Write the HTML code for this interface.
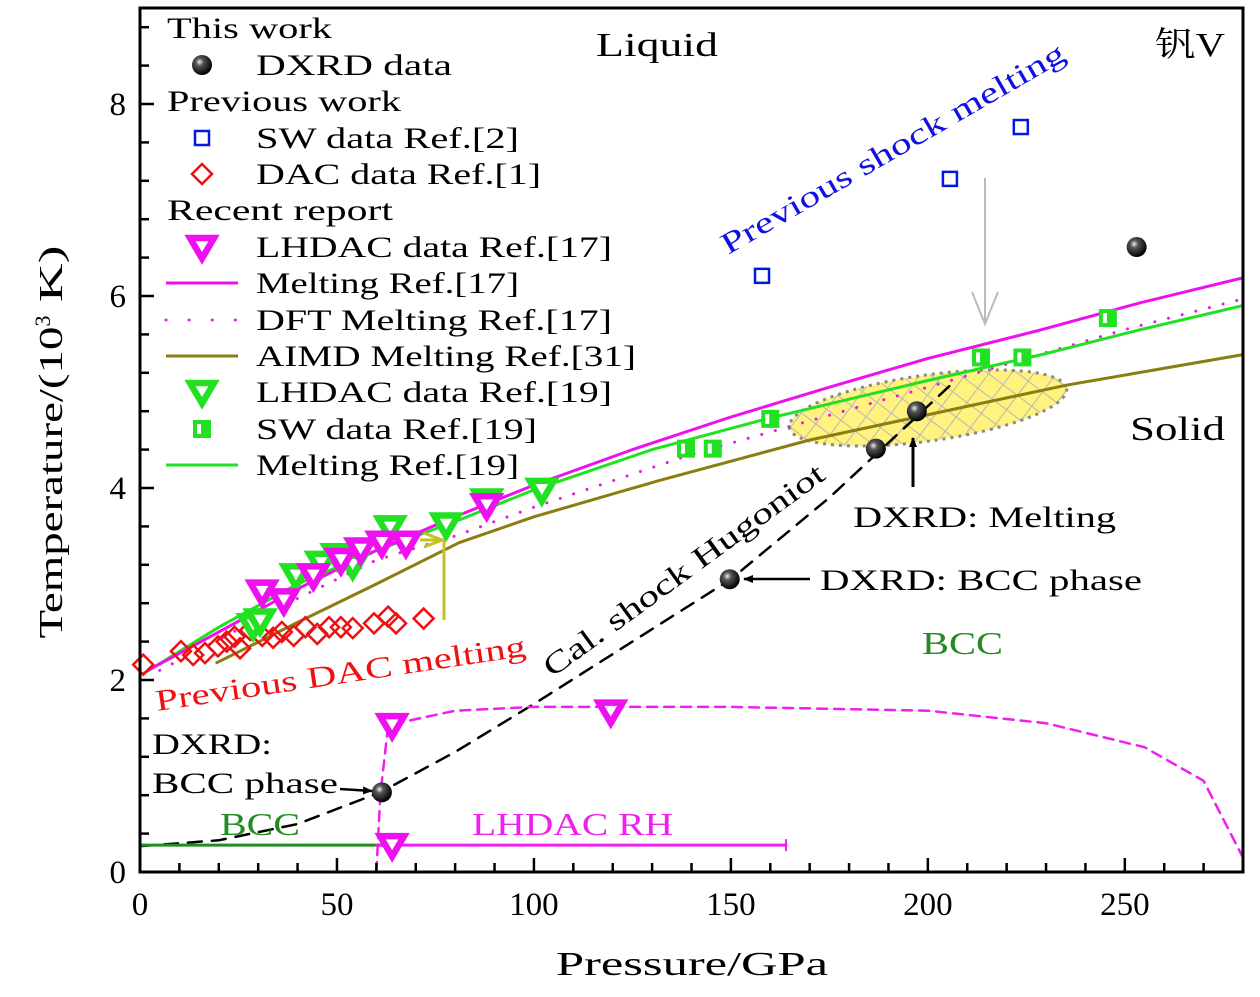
<!DOCTYPE html>
<html><head><meta charset="utf-8"><style>
html,body{margin:0;padding:0;background:#fff;}
svg text{font-family:"Liberation Serif","DejaVu Serif","Noto Serif CJK SC",serif;}
</style></head><body>
<svg id="chart" xmlns="http://www.w3.org/2000/svg" width="1260" height="992" viewBox="0 0 1260 992">
<defs>
<pattern id="hatch" patternUnits="userSpaceOnUse" width="18" height="18" patternTransform="rotate(45)">
<rect width="18" height="18" fill="#fff27f"/>
<line x1="0" y1="0" x2="0" y2="18" stroke="#b8b8b8" stroke-width="2"/>
<line x1="0" y1="0" x2="18" y2="0" stroke="#b8b8b8" stroke-width="2"/>
</pattern>
<radialGradient id="ball" cx="0.38" cy="0.35" r="0.65">
<stop offset="0" stop-color="#eee"/><stop offset="0.3" stop-color="#555"/><stop offset="1" stop-color="#000"/>
</radialGradient>
<marker id="ah" markerWidth="10" markerHeight="8" refX="9" refY="4" orient="auto" markerUnits="userSpaceOnUse"><path d="M0,0 L10,4 L0,8 z" fill="#000"/></marker>
</defs>
<g id="plot"></g>
</svg>
<script>
const dxrdP=[61.4,149.7,186.8,197.2,253];
const dxrdT=[0.83,3.05,4.41,4.80,6.51];
const swRef2P=[157.9,205.6,223.6];
const swRef2T=[6.21,7.22,7.76];
const dacP=[0.8,10.4,13.5,16.5,19.8,22,24,25.4,28,31,33.8,36,39,42,45,48,51,54,59.4,63,65,72];
const dacT=[2.16,2.30,2.26,2.28,2.35,2.40,2.45,2.33,2.52,2.46,2.44,2.50,2.46,2.55,2.48,2.55,2.55,2.54,2.59,2.66,2.59,2.64];
const lh17P=[31,36.5,44,51,56,61.4,67.5,88];
const lh17T=[2.92,2.83,3.09,3.25,3.36,3.43,3.43,3.82];
const rh17P=[64,119.5,64];
const rh17T=[1.53,1.67,0.28];
const lh19P=[28.7,30.5,39.6,46,50,54,63.5,77.7,88,102];
const lh19T=[2.57,2.62,3.09,3.22,3.30,3.20,3.59,3.62,3.87,3.98];
const sw19P=[138.6,145.4,160,213.5,224,245.7];
const sw19T=[4.41,4.41,4.72,5.36,5.36,5.77];
const melt17P=[2,20,40,60,80,100,125,150,175,200,228,254,280];
const melt17T=[2.1,2.5,2.95,3.35,3.7,4.03,4.4,4.74,5.05,5.35,5.64,5.93,6.19];
const melt19P=[1,20,40,60,80,100,130,160,200,230,254,280];
const melt19T=[2.07,2.55,3.0,3.35,3.65,3.98,4.4,4.73,5.12,5.4,5.65,5.9];
const dftP=[5,40,60,80,100,140,200,250,280];
const dftT=[2.1,2.85,3.25,3.5,3.8,4.35,5.05,5.65,5.97];
const aimdP=[19.5,40,60,81,100,132,170,235,280];
const aimdT=[2.18,2.6,3.0,3.43,3.7,4.08,4.5,5.07,5.39];
const hugP=[0,20,40,61,80,100,125,150,175,207];
const hugT=[0.27,0.33,0.5,0.83,1.25,1.75,2.4,3.05,3.9,5.12];
const rhP=[60,61,63,80,100,150,200,230,255,270,280];
const rhT=[0,0.8,1.53,1.68,1.72,1.72,1.68,1.55,1.3,0.95,0.15];
const xTicks=[0,50,100,150,200,250];
const yTicks=[0,2,4,6,8];

const X0=140,X1=1243,Y0=872,Y1=8;
const px=p=>X0+p*(X1-X0)/280;
const py=t=>Y0-t*(Y0-Y1)/9;
const NS='http://www.w3.org/2000/svg';
const g=document.getElementById('plot');
function mk(tag,attrs,parent){const e=document.createElementNS(NS,tag);for(const k in attrs)e.setAttribute(k,attrs[k]);(parent||g).appendChild(e);return e;}
function txt(s,x,y,size,color,len,extra){const a=Object.assign({x:x,y:y,'font-size':size,fill:color||'#000'},extra||{});if(len){a.textLength=len;a.lengthAdjust='spacingAndGlyphs';}const e=mk('text',a);e.textContent=s;return e;}
function poly(P,T,stroke,w,dash,name){const d=P.map((p,i)=>px(p).toFixed(1)+','+py(T[i]).toFixed(1)).join(' ');const e=mk('polyline',{points:d,fill:'none',stroke:stroke,'stroke-width':w,'stroke-dasharray':dash||'none','stroke-linecap':'round','stroke-linejoin':'round'});


return e;}
function downTri(x,y,c,parent){const s=12;const e=mk('path',{d:`M${x-s},${y-s*0.75} L${x+s},${y-s*0.75} L${x},${y+s*0.95} Z`,fill:'#fff',stroke:c,'stroke-width':6.5,'stroke-linejoin':'miter'},parent);


return e;}
function sqMark(x,y,parent){const e=mk('g',{},parent);mk('rect',{x:x-9,y:y-9,width:18,height:18,fill:'#22e022'},e);mk('rect',{x:x-5,y:y-5,width:4,height:10,fill:'#fff'},e);


return e;}
function openSq(x,y,parent){const e=mk('rect',{x:x-7,y:y-7,width:14,height:14,fill:'none',stroke:'#0018e0','stroke-width':2.5},parent);


return e;}
function diamond(x,y,parent){const s=10;const e=mk('path',{d:`M${x},${y-s} L${x+s},${y} L${x},${y+s} L${x-s},${y} Z`,fill:'none',stroke:'#ee1111','stroke-width':2.5},parent);


return e;}
function ball(x,y,parent){const e=mk('circle',{cx:x,cy:y,r:10,fill:'url(#ball)'},parent);


return e;}

const el=mk('ellipse',{cx:928,cy:408,rx:140,ry:33,transform:'rotate(-8 928 408)',fill:'url(#hatch)',stroke:'#888','stroke-width':3,'stroke-dasharray':'3,5'});



poly(aimdP,aimdT,'#8b7d10',3,null,'aimd-melting-line');
poly(dftP,dftT,'#e020e0',3,'0.1,14','dft-melting-line');
poly(melt19P,melt19T,'#22e022',3,null,'melting-ref19-line');
poly(melt17P,melt17T,'#ee10ee',3,null,'melting-ref17-line');
poly(hugP,hugT,'#000',2.5,'14,10','hugoniot-line');
poly(rhP,rhT,'#ee20ee',2.5,'10,7','lhdac-rh-line');
poly([0,64],[0.28,0.28],'#228b22',3,null,'bcc-boundary-line');
poly([60,164],[0.28,0.28],'#ee20ee',3,null,'lhdac-rh-range');
mk('line',{x1:px(164),y1:py(0.28)-6,x2:px(164),y2:py(0.28)+6,stroke:'#ee20ee','stroke-width':2});
mk('polyline',{points:`444,620 444,540 420,540`,fill:'none',stroke:'#c8c020','stroke-width':3});
mk('polyline',{points:`424,533 442,540 424,547`,fill:'none',stroke:'#c8c020','stroke-width':3});

const mg=mk('g',{});


dacP.forEach((p,i)=>diamond(px(p),py(dacT[i]),mg));
lh19P.forEach((p,i)=>downTri(px(p),py(lh19T[i]),'#22e022',mg));
lh17P.forEach((p,i)=>downTri(px(p),py(lh17T[i]),'#ee10ee',mg));
rh17P.forEach((p,i)=>downTri(px(p),py(rh17T[i]),'#ee10ee',mg));
sw19P.forEach((p,i)=>sqMark(px(p),py(sw19T[i]),mg));
swRef2P.forEach((p,i)=>openSq(px(p),py(swRef2T[i]),mg));
dxrdP.forEach((p,i)=>ball(px(p),py(dxrdT[i]),mg));

mk('line',{x1:985,y1:178,x2:985,y2:322,stroke:'#bbb','stroke-width':2});
mk('polyline',{points:'972,292 985,324 998,292',fill:'none',stroke:'#bbb','stroke-width':2});
mk('line',{x1:913,y1:487,x2:913,y2:438,stroke:'#000','stroke-width':3,'marker-end':'url(#ah)'});
mk('line',{x1:810,y1:579,x2:744,y2:579,stroke:'#000','stroke-width':2.5,'marker-end':'url(#ah)'});
mk('line',{x1:340,y1:789,x2:372,y2:791,stroke:'#000','stroke-width':2.5,'marker-end':'url(#ah)'});

const ax=mk('g',{});


mk('rect',{x:X0,y:Y1,width:X1-X0,height:Y0-Y1,fill:'none',stroke:'#000','stroke-width':3},ax);
for(let p=10;p<280;p+=10){const major=p%50===0;mk('line',{x1:px(p),y1:Y0,x2:px(p),y2:Y0-(major?14:9),stroke:'#000','stroke-width':2.5},ax);}
for(let t=0.4;t<9;t+=0.4){const major=Math.abs(t/2-Math.round(t/2))<0.01;mk('line',{x1:X0,y1:py(t),x2:X0+(major?14:9),y2:py(t),stroke:'#000','stroke-width':2.5},ax);}
xTicks.forEach(v=>{const e=txt(String(v),px(v),915,33,'#000',null,{'text-anchor':'middle'});

});
yTicks.forEach(v=>{const e=txt(String(v),126,py(v)+11,33,'#000',null,{'text-anchor':'end'});

});
const xt=txt('Pressure/GPa',556,975,34,'#000',272);


const yt=mk('text',{x:0,y:0,'font-size':34,'text-anchor':'middle',transform:'translate(62 442) rotate(-90)'});
yt.innerHTML='<tspan textLength="312" lengthAdjust="spacingAndGlyphs">Temperature/(10</tspan><tspan dy="-12" font-size="22">3</tspan><tspan dy="12" textLength="70" lengthAdjust="spacingAndGlyphs"> K)</tspan>';



[['Liquid',596,56,34,'#000',122],['钒V',1155,56,34,'#000',70],['Solid',1130,440,34,'#000',95],['BCC',922,654,32,'#228b22',81],['BCC',220,835,32,'#228b22',80],['LHDAC RH',472,835,32,'#ee20ee',201],['DXRD: Melting',853,527,30,'#000',263],['DXRD: BCC phase',820,590,30,'#000',322],['DXRD:',152,754,30,'#000',120],['BCC phase',152,793,30,'#000',186]].forEach(a=>{const e=txt(a[0],a[1],a[2],a[3],a[4],a[5]);

});
const r1=txt('Previous shock melting',728,255,30,'#1010e0',392,{transform:'rotate(-30 728 255)'});


const r2=txt('Cal. shock Hugoniot',552,678,30,'#000',340,{transform:'rotate(-36 552 678)'});


const r3=txt('Previous DAC melting',157,711,30,'#ee1111',374,{transform:'rotate(-8.5 157 711)'});



const lg=mk('g',{});


const rows=[['This work',38,null,165],['DXRD data',75,'ball',196],['Previous work',111,null,234],['SW data Ref.[2]',148,'sq',263],['DAC data Ref.[1]',184,'dia',285],['Recent report',220,null,226],['LHDAC data Ref.[17]',257,'tri17',356],['Melting Ref.[17]',293,'l17',263],['DFT Melting Ref.[17]',330,'dft',356],['AIMD Melting Ref.[31]',366,'aimd',380],['LHDAC data Ref.[19]',402,'tri19',356],['SW data Ref.[19]',439,'sq19',281],['Melting Ref.[19]',475,'l19',263]];
rows.forEach(r=>{const [s,y,k,len]=r;const yy=y-10;
const e=txt(s,k?256:167,y,30,'#000',len);


if(k==='ball')ball(202,yy,lg);
if(k==='sq')openSq(202,yy,lg);
if(k==='dia')diamond(202,yy,lg);
if(k==='tri17')downTri(202,yy,'#ee10ee',lg);
if(k==='tri19')downTri(202,yy,'#22e022',lg);
if(k==='sq19')sqMark(202,yy,lg);
if(k==='l17')mk('line',{x1:166,y1:yy,x2:238,y2:yy,stroke:'#ee10ee','stroke-width':3},lg);
if(k==='l19')mk('line',{x1:166,y1:yy,x2:238,y2:yy,stroke:'#22e022','stroke-width':3},lg);
if(k==='aimd')mk('line',{x1:166,y1:yy,x2:238,y2:yy,stroke:'#8b7d10','stroke-width':3},lg);
if(k==='dft')mk('line',{x1:166,y1:yy,x2:238,y2:yy,stroke:'#e020e0','stroke-width':3,'stroke-dasharray':'0.1,23','stroke-linecap':'round'},lg);
});
</script>
</body></html>
